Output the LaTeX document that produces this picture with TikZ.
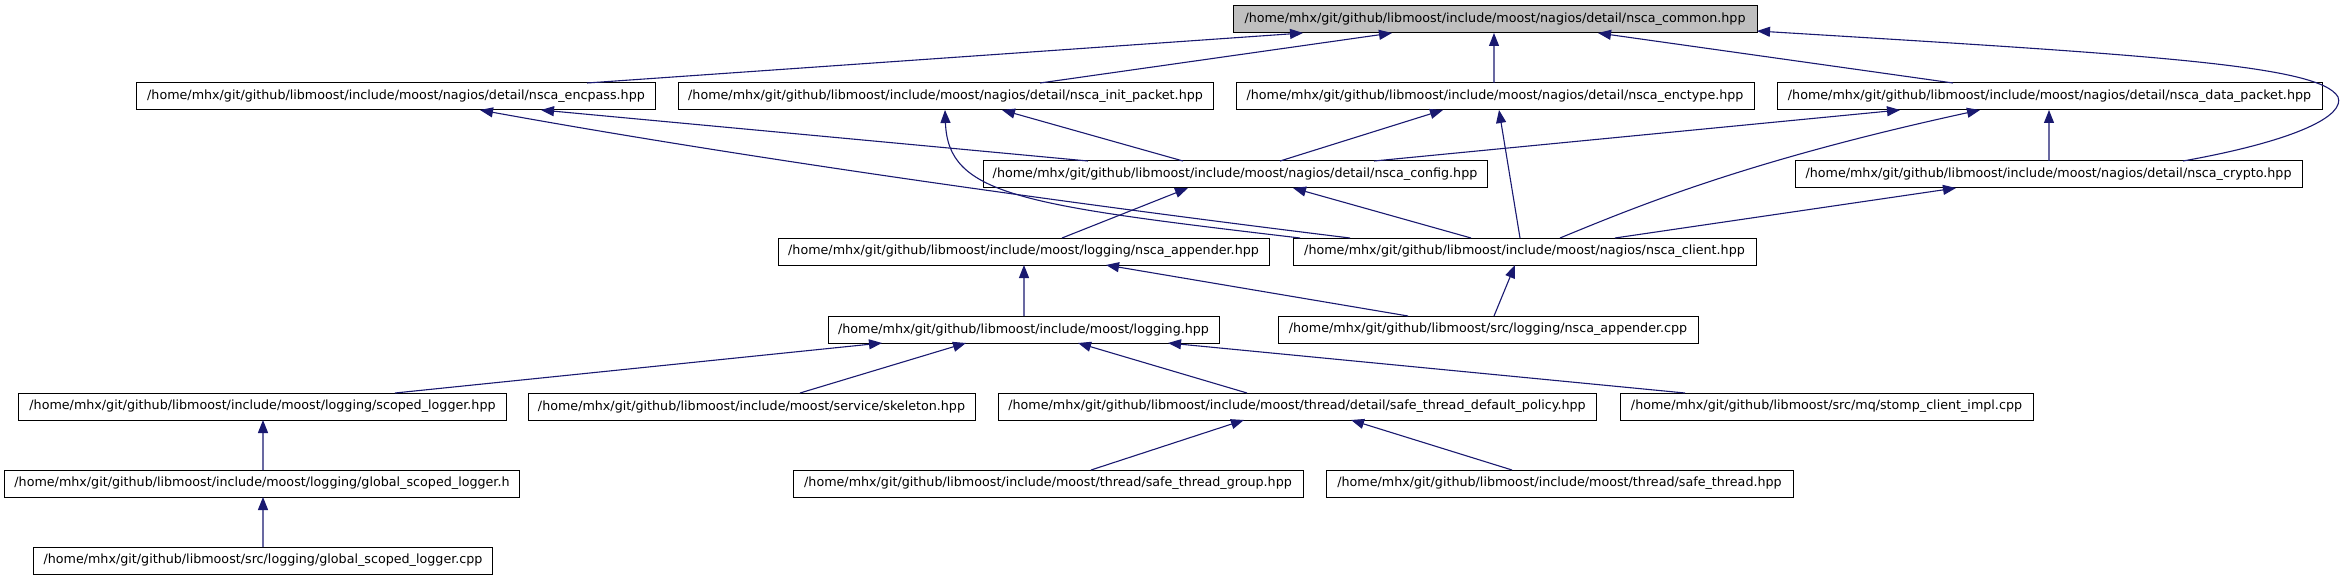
\documentclass[tikz,border=0pt]{standalone}
\usepackage{fontspec}
\setmainfont{DejaVu Sans}
\usetikzlibrary{arrows.meta,calc}
\definecolor{edgecol}{HTML}{191970}
\definecolor{rootfill}{HTML}{BFBFBF}
\tikzset{
  box/.style={draw=black, line width=1bp, fill=white, minimum height=27bp, inner sep=0pt, outer sep=0pt,
    font=\fontsize{12.7bp}{15bp}\selectfont, text=black},
  rootbox/.style={box, fill=rootfill},
  dep/.style={draw=edgecol, line width=1.1bp, -{Triangle[length=13bp,width=10bp]}},
}
\begin{document}
\begin{tikzpicture}[x=1bp,y=-1bp]
\useasboundingbox (0,0) rectangle (2345,581);
% nodes
\node[rootbox, minimum width=524bp] (common) at (1495,19.5) {/home/mhx/git/github/libmoost/include/moost/nagios/detail/nsca\_common.hpp};
\node[box, minimum width=518bp] (encpass) at (396,96.5) {/home/mhx/git/github/libmoost/include/moost/nagios/detail/nsca\_encpass.hpp};
\node[box, minimum width=535bp] (init) at (945.5,96.5) {/home/mhx/git/github/libmoost/include/moost/nagios/detail/nsca\_init\_packet.hpp};
\node[box, minimum width=518bp] (enctype) at (1495,96.5) {/home/mhx/git/github/libmoost/include/moost/nagios/detail/nsca\_enctype.hpp};
\node[box, minimum width=545bp] (data) at (2049.5,96.5) {/home/mhx/git/github/libmoost/include/moost/nagios/detail/nsca\_data\_packet.hpp};
\node[box, minimum width=504bp] (config) at (1235,174.5) {/home/mhx/git/github/libmoost/include/moost/nagios/detail/nsca\_config.hpp};
\node[box, minimum width=507bp] (crypto) at (2048.5,174.5) {/home/mhx/git/github/libmoost/include/moost/nagios/detail/nsca\_crypto.hpp};
\node[box, minimum width=491bp] (apphpp) at (1023.5,251.5) {/home/mhx/git/github/libmoost/include/moost/logging/nsca\_appender.hpp};
\node[box, minimum width=463bp] (client) at (1524.5,251.5) {/home/mhx/git/github/libmoost/include/moost/nagios/nsca\_client.hpp};
\node[box, minimum width=391bp] (logging) at (1023.5,329.5) {/home/mhx/git/github/libmoost/include/moost/logging.hpp};
\node[box, minimum width=420bp] (appcpp) at (1488,329.5) {/home/mhx/git/github/libmoost/src/logging/nsca\_appender.cpp};
\node[box, minimum width=487bp] (scoped) at (262.5,406.5) {/home/mhx/git/github/libmoost/include/moost/logging/scoped\_logger.hpp};
\node[box, minimum width=447bp] (skeleton) at (751.5,406.5) {/home/mhx/git/github/libmoost/include/moost/service/skeleton.hpp};
\node[box, minimum width=598bp] (policy) at (1297,406.5) {/home/mhx/git/github/libmoost/include/moost/thread/detail/safe\_thread\_default\_policy.hpp};
\node[box, minimum width=413bp] (stomp) at (1826.5,406.5) {/home/mhx/git/github/libmoost/src/mq/stomp\_client\_impl.cpp};
\node[box, minimum width=514bp] (globalh) at (262,483.5) {/home/mhx/git/github/libmoost/include/moost/logging/global\_scoped\_logger.h};
\node[box, minimum width=510bp] (group) at (1048,483.5) {/home/mhx/git/github/libmoost/include/moost/thread/safe\_thread\_group.hpp};
\node[box, minimum width=467bp] (thread) at (1559.5,483.5) {/home/mhx/git/github/libmoost/include/moost/thread/safe\_thread.hpp};
\node[box, minimum width=458bp] (globalcpp) at (263,560.5) {/home/mhx/git/github/libmoost/src/logging/global\_scoped\_logger.cpp};
% edges (arrow at the included header)
\draw[dep] ($(encpass.north west)+(450,0)$) -- ($(common.south west)+(70,0)$);
\draw[dep] ($(init.north west)+(362,0)$) -- ($(common.south west)+(159,0)$);
\draw[dep] ($(enctype.north west)+(258,0)$) -- ($(common.south west)+(261,0)$);
\draw[dep] ($(data.north west)+(176,0)$) -- ($(common.south west)+(365,0)$);
\draw[dep] ($(crypto.north west)+(388,0)$) .. controls (2300,140) and (2345,115) .. (2338,97)
  .. controls (2320,65) and (2150,55) .. ($(common.south east)+(0,-2)$);
\draw[dep] ($(config.north west)+(391,0)$) -- ($(data.south west)+(123,0)$);
\draw[dep] ($(client.north west)+(267,0)$) .. controls (1640,205) and (1750,160) .. ($(data.south west)+(203,0)$);
\draw[dep] ($(crypto.north west)+(254,0)$) -- ($(data.south west)+(272,0)$);
\draw[dep] ($(config.north west)+(297,0)$) -- ($(enctype.south west)+(207,0)$);
\draw[dep] ($(client.north west)+(227,0)$) -- ($(enctype.south west)+(263,0)$);
\draw[dep] ($(config.north west)+(200,0)$) -- ($(init.south west)+(324,0)$);
\draw[dep] ($(client.north west)+(7,0)$) .. controls (1020,205) and (948,195) .. ($(init.south west)+(267,0)$);
\draw[dep] ($(config.north west)+(105,0)$) -- ($(encpass.south west)+(404,0)$);
\draw[dep] ($(client.north west)+(57,0)$) .. controls (1000,195) and (700,150) .. ($(encpass.south west)+(343,0)$);
\draw[dep] ($(apphpp.north west)+(284,0)$) -- ($(config.south west)+(205,0)$);
\draw[dep] ($(client.north west)+(178,0)$) -- ($(config.south west)+(310,0)$);
\draw[dep] ($(client.north west)+(322,0)$) -- ($(crypto.south west)+(161,0)$);
\draw[dep] ($(logging.north west)+(196,0)$) -- ($(apphpp.south west)+(246,0)$);
\draw[dep] ($(appcpp.north west)+(130,0)$) -- ($(apphpp.south west)+(328,0)$);
\draw[dep] ($(appcpp.north west)+(216,0)$) -- ($(client.south west)+(222,0)$);
\draw[dep] ($(scoped.north west)+(376,0)$) -- ($(logging.south west)+(54,0)$);
\draw[dep] ($(skeleton.north west)+(272,0)$) -- ($(logging.south west)+(138,0)$);
\draw[dep] ($(policy.north west)+(249,0)$) -- ($(logging.south west)+(250,0)$);
\draw[dep] ($(stomp.north west)+(65,0)$) -- ($(logging.south west)+(340,0)$);
\draw[dep] ($(group.north west)+(298,0)$) -- ($(policy.south west)+(246,0)$);
\draw[dep] ($(thread.north west)+(186,0)$) -- ($(policy.south west)+(353,0)$);
\draw[dep] ($(globalh.north west)+(258,0)$) -- ($(scoped.south west)+(244,0)$);
\draw[dep] ($(globalcpp.north west)+(229,0)$) -- ($(globalh.south west)+(258,0)$);
\end{tikzpicture}
\end{document}
